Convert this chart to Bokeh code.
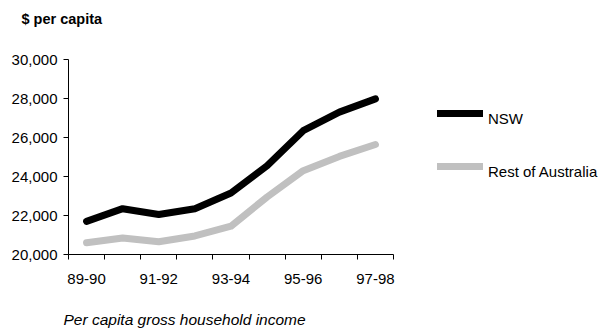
from bokeh.plotting import figure
from bokeh.models import (Range1d, FixedTicker, Legend, LegendItem, Title,
                          NumeralTickFormatter, ColumnDataSource)
from bokeh.embed import file_html
from bokeh.resources import INLINE

categories = ["89-90", "90-91", "91-92", "92-93", "93-94", "94-95", "95-96", "96-97", "97-98"]
nsw = [21700, 22350, 22050, 22350, 23150, 24550, 26350, 27300, 27980]
rest = [20600, 20850, 20650, 20950, 21450, 22950, 24300, 25030, 25640]
labelled = ["89-90", "91-92", "93-94", "95-96", "97-98"]
y_ticks = [20000, 22000, 24000, 26000, 28000, 30000]
series_names = ["NSW", "Rest of Australia"]

xs = [i + 0.5 for i in range(len(categories))]
src = ColumnDataSource(dict(x=xs, nsw=nsw, rest=rest))

FONT = "Liberation Sans"

# frame spans to the right edge so that the legend can sit inside it;
# the category axis itself covers 325 px of the 539 px frame
n = len(categories)
x_end = n * (607 - 68) / 325.0

p = figure(width=607, height=331, output_backend="svg", toolbar_location=None,
           x_range=Range1d(0, x_end), y_range=Range1d(20000, 30000),
           min_border_left=68, min_border_right=0, min_border_top=59, min_border_bottom=77)
p.outline_line_color = None
p.grid.grid_line_color = None
p.background_fill_color = "white"
p.border_fill_color = "white"

r1 = p.line("x", "nsw", source=src, line_color="black", line_width=7,
            line_cap="round", line_join="round")
r2 = p.line("x", "rest", source=src, line_color="#c0c0c0", line_width=7,
            line_cap="round", line_join="round")
# invisible stand-ins used only to carry the legend labels
empty = ColumnDataSource(dict(x=[], y=[]))
d1 = p.line("x", "y", source=empty, line_alpha=0)
d2 = p.line("x", "y", source=empty, line_alpha=0)

# x axis: labels at category centres, tick marks at category boundaries
xa = p.xaxis[0]
label_pos = [categories.index(c) + 0.5 for c in labelled]
xa.ticker = FixedTicker(ticks=label_pos, minor_ticks=list(range(n + 1)))
xa.bounds = (0, n)
xa.major_label_overrides = {pos: c for pos, c in zip(label_pos, labelled)}
xa.major_tick_line_color = None
xa.major_tick_out = 5
xa.major_tick_in = 0
xa.minor_tick_line_color = "black"
xa.minor_tick_out = 5
xa.minor_tick_in = 0
xa.axis_line_color = "black"
xa.major_label_text_font = FONT
xa.major_label_text_font_size = "15px"
xa.major_label_text_color = "black"
xa.major_label_standoff = 14

ya = p.yaxis[0]
ya.ticker = FixedTicker(ticks=y_ticks)
ya.formatter = NumeralTickFormatter(format="0,0")
ya.major_tick_out = 5
ya.major_tick_in = 0
ya.minor_tick_line_color = None
ya.axis_line_color = "black"
ya.major_tick_line_color = "black"
ya.major_label_text_font = FONT
ya.major_label_text_font_size = "15px"
ya.major_label_text_color = "black"
ya.major_label_standoff = 6

common = dict(padding=0, margin=0, spacing=33, glyph_width=46, glyph_height=20,
              label_height=20, label_standoff=5, border_line_color=None,
              background_fill_alpha=0, label_text_font=FONT,
              label_text_font_size="15px", label_text_color="black")

# legend swatches
legend_glyphs = Legend(items=[LegendItem(label=" ", renderers=[r1]),
                              LegendItem(label=" ", renderers=[r2])],
                       location=(369, 78), **common)
# legend labels, sitting slightly lower than the swatches as in the original
legend_labels = Legend(items=[LegendItem(label=series_names[0], renderers=[d1]),
                              LegendItem(label=series_names[1], renderers=[d2])],
                       location=(369, 72.5), **common)
p.add_layout(legend_glyphs, "center")
p.add_layout(legend_labels, "center")

# above: spacer next to the frame, then the heading further out
top_spacer = Title(text=" ", text_font_size="1px", standoff=30)
heading = Title(text="$ per capita", align="left", offset=-47, standoff=0,
                text_font=FONT, text_font_size="14.5px", text_font_style="bold",
                text_color="black")
p.add_layout(top_spacer, "above")
p.add_layout(heading, "above")

# below: axis, spacer, then caption at the bottom edge
bottom_spacer = Title(text=" ", text_font_size="1px", standoff=19)
caption = Title(text="Per capita gross household income", align="left", offset=-5,
                standoff=0,
                text_font=FONT, text_font_size="15.5px", text_font_style="italic",
                text_color="black")
p.add_layout(bottom_spacer, "below")
p.add_layout(caption, "below")

open("out.html", "w").write(file_html(p, INLINE))
